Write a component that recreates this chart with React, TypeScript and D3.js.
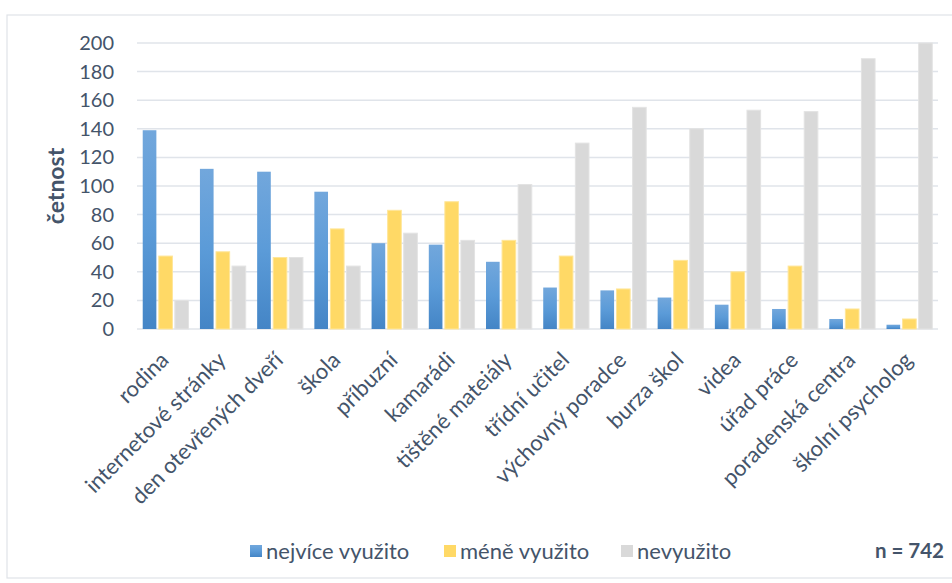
import React from 'react';
import * as d3 from 'd3';

const categories = [
  'rodina', 'internetové stránky', 'den otevřených dveří', 'škola', 'příbuzní', 'kamarádi',
  'tištěné mateiály', 'třídní učitel', 'výchovný poradce', 'burza škol', 'videa',
  'úřad práce', 'poradenská centra', 'školní psycholog',
];
const nejvice = [139, 112, 110, 96, 60, 59, 47, 29, 27, 22, 17, 14, 7, 3];
const mene = [51, 54, 50, 70, 83, 89, 62, 51, 28, 48, 40, 44, 14, 7];
const nevyuzito = [20, 44, 50, 44, 67, 62, 101, 130, 155, 140, 153, 152, 189, 200];
const seriesNames = ['nejvíce využito', 'méně využito', 'nevyužito'];
const yTicks = [0, 20, 40, 60, 80, 100, 120, 140, 160, 180, 200];

const width = 952;
const height = 583;
const margin = { left: 137, right: 14, top: 43, bottom: 254 };
const font = 'Lato, "Open Sans", sans-serif';
const textColor = '#44546a';

const App = () => {
  const x0 = d3.scaleBand().domain(categories).range([margin.left, width - margin.right]).paddingInner(0.2).paddingOuter(0.1);
  const x1 = d3.scaleBand().domain(seriesNames).range([0, x0.bandwidth()]).paddingInner(0.15);
  const y = d3.scaleLinear().domain([0, 200]).range([height - margin.bottom, margin.top]);
  const series = [nejvice, mene, nevyuzito];
  const fills = ['url(#blueGrad)', '#ffd966', '#d9d9d9'];
  const strokes = ['none', '#ffe699', '#e3e3e3'];

  const legend = [
    { name: seriesNames[0], x: 250, fill: 'url(#blueGrad)' },
    { name: seriesNames[1], x: 444, fill: '#ffd966' },
    { name: seriesNames[2], x: 621, fill: '#d9d9d9' },
  ];

  return (
    <svg width={width} height={height} style={{ position: 'absolute', left: 0, top: 0, background: '#fff' }}>
      <defs>
        <linearGradient id="blueGrad" x1="0" y1="0" x2="0" y2="1">
          <stop offset="0%" stopColor="#72a7dc" />
          <stop offset="50%" stopColor="#5b9bd8" />
          <stop offset="100%" stopColor="#4485c6" />
        </linearGradient>
      </defs>
      <rect x={7} y={15} width={960} height={563} fill="none" stroke="#dfe3e8" strokeWidth={1.2} />

      {/* gridlines */}
      {yTicks.map(t => (
        <line key={t} x1={margin.left} x2={width - margin.right} y1={y(t)} y2={y(t)} stroke="#e0e4ea" strokeWidth={1.5} />
      ))}
      {yTicks.map(t => (
        <text key={'l' + t} x={114} y={y(t)} dy="0.35em" textAnchor="end" fontFamily={font} fontSize={20} fill={textColor}>{t}</text>
      ))}
      <text transform={`translate(64,${y(100)}) rotate(-90)`} textAnchor="middle" fontFamily={font} fontSize={23} fontWeight="bold" fill={textColor}>četnost</text>

      {/* bars */}
      {categories.map((c, i) => (
        <g key={c} transform={`translate(${x0(c)},0)`}>
          {series.map((s, j) => (
            <rect key={j} x={x1(seriesNames[j])} y={y(s[i])} width={x1.bandwidth()} height={y(0) - y(s[i])}
              fill={fills[j]} stroke={strokes[j]} strokeWidth={1} />
          ))}
        </g>
      ))}

      {/* x labels */}
      {categories.map(c => {
        const cx = (x0(c) as number) + x0.bandwidth() / 2 - 1;
        return (
          <text key={'x' + c} transform={`translate(${cx},${y(0) + 27}) rotate(-45)`} textAnchor="end" dy="0.35em"
            fontFamily={font} fontSize={22} fill={textColor}>{c}</text>
        );
      })}

      {/* legend */}
      {legend.map(l => (
        <g key={l.name}>
          <rect x={l.x} y={545} width={12} height={12} fill={l.fill} />
          <text x={l.x + 16} y={551} dy="0.35em" fontFamily={font} fontSize={22} fill={textColor}>{l.name}</text>
        </g>
      ))}
      <text x={944} y={551} dy="0.35em" textAnchor="end" fontFamily={font} fontSize={20.5} fontWeight="bold" fill={textColor}>n = 742</text>
    </svg>
  );
};

export default App;
